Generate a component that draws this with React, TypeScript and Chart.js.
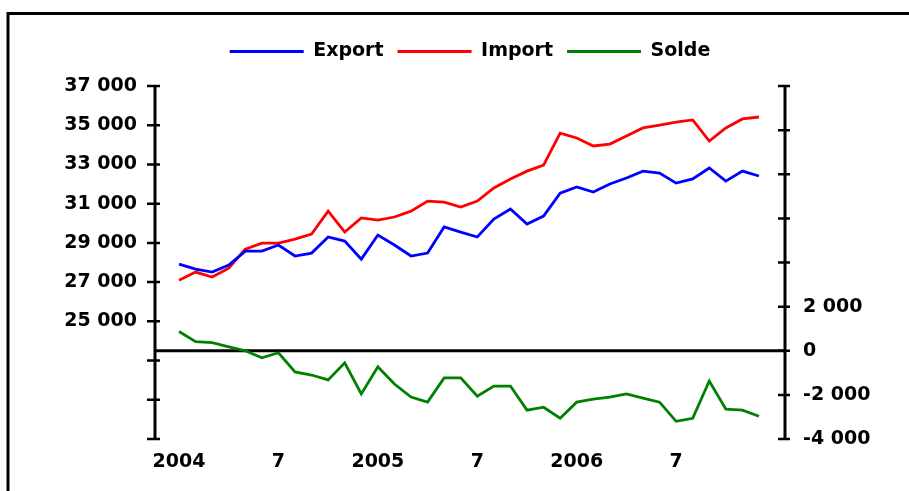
import React, { useEffect, useRef } from "react";
import { Chart, registerables } from "chart.js";

Chart.register(...registerables);

const months = [
  "2004-01", "2004-02", "2004-03", "2004-04", "2004-05", "2004-06",
  "2004-07", "2004-08", "2004-09", "2004-10", "2004-11", "2004-12",
  "2005-01", "2005-02", "2005-03", "2005-04", "2005-05", "2005-06",
  "2005-07", "2005-08", "2005-09", "2005-10", "2005-11", "2005-12",
  "2006-01", "2006-02", "2006-03", "2006-04", "2006-05", "2006-06",
  "2006-07", "2006-08", "2006-09", "2006-10", "2006-11", "2006-12",
];

const exportValues = [
  27920, 27660, 27510, 27870, 28580, 28580, 28890, 28330, 28480, 29300, 29090, 28170,
  29400, 28890, 28330, 28480, 29810, 29550, 29300, 30210, 30730, 29960, 30370, 31540,
  31850, 31590, 32000, 32310, 32660, 32560, 32050, 32260, 32820, 32150, 32660, 32410,
];

const importValues = [
  27100, 27510, 27260, 27710, 28680, 28990, 28990, 29190, 29450, 30620, 29550, 30270,
  30160, 30320, 30620, 31130, 31080, 30830, 31130, 31800, 32260, 32660, 32970, 34600,
  34350, 33940, 34040, 34450, 34860, 35010, 35160, 35270, 34190, 34860, 35320, 35420,
];

const soldeValues = [
  870, 410, 370, 180, 0, -320, -90, -960, -1100, -1320, -550, -1960,
  -730, -1510, -2100, -2330, -1230, -1230, -2060, -1600, -1600, -2690, -2560, -3060,
  -2330, -2190, -2100, -1960, -2150, -2330, -3200, -3060, -1370, -2650, -2690, -2970,
];

const seriesNames = ["Export", "Import", "Solde"];
const seriesColors = ["#0000FF", "#FF0000", "#008000"];

const leftMin = 19000;
const leftMax = 37000;
const leftLabelFrom = 25000;
const rightMin = -4000;
const rightMax = 12000;
const rightLabelTo = 2000;
const axisStep = 2000;

const FONT = "'DejaVu Sans', 'Liberation Sans', sans-serif";
const TEXT_FONT = { family: FONT, size: 19, weight: "bold" as const };

function fmt(v: number): string {
  const s = Math.abs(Math.round(v)).toString().replace(/\B(?=(\d{3})+(?!\d))/g, " ");
  return (v < 0 ? "-" : "") + s;
}

function monthTickLabel(m: string): string {
  const [year, mo] = m.split("-");
  if (mo === "01") return year;
  if (mo === "07") return String(Number(mo));
  return "";
}

const framePlugin = {
  id: "framePlugin",
  beforeInit(chart: any) {
    const lg = chart.legend;
    if (lg && !lg.__patched) {
      const orig = lg.fit;
      lg.fit = function () {
        orig.call(this);
        this.height += 15;
      };
      lg.__patched = true;
    }
  },
  beforeDraw(chart: any) {
    const { ctx, width, height } = chart;
    ctx.save();
    ctx.fillStyle = "#ffffff";
    ctx.fillRect(0, 0, width, height);
    ctx.strokeStyle = "#000000";
    ctx.lineWidth = 3;
    ctx.beginPath();
    ctx.moveTo(8, height);
    ctx.lineTo(8, 13.5);
    ctx.lineTo(width, 13.5);
    ctx.stroke();
    ctx.restore();
  },
  beforeDatasetsDraw(chart: any) {
    const { ctx, chartArea, scales } = chart;
    const y0 = scales.y2.getPixelForValue(0);
    ctx.save();
    ctx.strokeStyle = "#000000";
    ctx.lineWidth = 3;
    ctx.beginPath();
    ctx.moveTo(chartArea.left, y0);
    ctx.lineTo(chartArea.right, y0);
    ctx.stroke();
    ctx.restore();
  },
  afterDatasetsDraw(chart: any) {
    const { ctx, chartArea, scales } = chart;
    ctx.save();
    ctx.strokeStyle = "#000000";
    ctx.lineWidth = 3;
    ctx.beginPath();
    ctx.moveTo(chartArea.left, chartArea.top - 1);
    ctx.lineTo(chartArea.left, chartArea.bottom + 1);
    ctx.moveTo(chartArea.right, chartArea.top - 1);
    ctx.lineTo(chartArea.right, chartArea.bottom + 1);
    ctx.stroke();
    ctx.lineWidth = 2.5;
    ctx.beginPath();
    for (const t of scales.y.ticks) {
      const py = scales.y.getPixelForValue(t.value);
      ctx.moveTo(chartArea.left - 8, py);
      ctx.lineTo(chartArea.left + 5, py);
    }
    for (const t of scales.y2.ticks) {
      const py = scales.y2.getPixelForValue(t.value);
      ctx.moveTo(chartArea.right - 7, py);
      ctx.lineTo(chartArea.right + 5, py);
    }
    ctx.stroke();
    ctx.restore();
  },
};

export default function App() {
  const canvasRef = useRef<HTMLCanvasElement | null>(null);

  useEffect(() => {
    const canvas = canvasRef.current;
    if (!canvas) return;
    const seriesValues = [exportValues, importValues, soldeValues];
    const chart = new Chart(canvas, {
      type: "line",
      data: {
        datasets: seriesValues.map((vals, k) => ({
          label: seriesNames[k],
          data: vals.map((v, i) => ({ x: i, y: v })),
          borderColor: seriesColors[k],
          backgroundColor: seriesColors[k],
          borderWidth: 2.8,
          pointRadius: 0,
          tension: 0,
          yAxisID: k === 2 ? "y2" : "y",
        })),
      },
      options: {
        responsive: false,
        animation: false,
        devicePixelRatio: 1,
        layout: { padding: { top: 28, left: 62, right: 31, bottom: 0 } },
        plugins: {
          tooltip: { enabled: false },
          legend: {
            position: "top",
            labels: {
              usePointStyle: true,
              pointStyle: "line",
              pointStyleWidth: 74,
              padding: 14,
              color: "#000",
              font: TEXT_FONT,
            },
          },
        },
        scales: {
          x: {
            type: "linear",
            min: -1.45,
            max: 36.57,
            grid: { display: false, drawTicks: false },
            border: { display: false },
            afterBuildTicks: (s: any) => {
              s.ticks = months
                .map((m, i) => ({ value: i, m }))
                .filter((t) => monthTickLabel(t.m) !== "")
                .map((t) => ({ value: t.value }));
            },
            afterFit: (s: any) => {
              s.height = 52;
            },
            ticks: {
              autoSkip: false,
              maxRotation: 0,
              padding: 12,
              color: "#000",
              font: TEXT_FONT,
              callback: (v: any) => monthTickLabel(months[Number(v)] || ""),
            },
          },
          y: {
            type: "linear",
            position: "left",
            min: leftMin,
            max: leftMax,
            grid: { display: false, drawTicks: false },
            border: { display: false },
            afterFit: (s: any) => {
              s.width = 93;
            },
            ticks: {
              stepSize: axisStep,
              padding: 18,
              color: "#000",
              font: TEXT_FONT,
              callback: (v: any) => (Number(v) >= leftLabelFrom ? fmt(Number(v)) : ""),
            },
          },
          y2: {
            type: "linear",
            position: "right",
            min: rightMin,
            max: rightMax,
            grid: { display: false, drawTicks: false },
            border: { display: false },
            afterFit: (s: any) => {
              s.width = 93;
            },
            ticks: {
              stepSize: axisStep,
              padding: 18,
              color: "#000",
              font: TEXT_FONT,
              callback: (v: any) => (Number(v) <= rightLabelTo ? fmt(Number(v)) : ""),
            },
          },
        },
      } as any,
      plugins: [framePlugin as any],
    });
    return () => chart.destroy();
  }, []);

  return (
    <div style={{ position: "absolute", left: 0, top: 0, width: 909, height: 491, overflow: "hidden", background: "#fff" }}>
      <canvas ref={canvasRef} width={909} height={491} style={{ display: "block", width: 909, height: 491 }} />
    </div>
  );
}
